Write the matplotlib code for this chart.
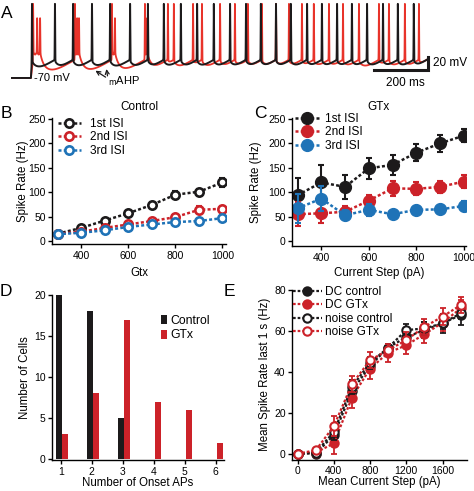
import numpy as np
import matplotlib
matplotlib.use('Agg')
import matplotlib.pyplot as plt

plt.rcParams['font.family'] = ['Liberation Sans', 'DejaVu Sans']
plt.rcParams['font.size'] = 8.3
plt.rcParams['axes.linewidth'] = 1.0
plt.rcParams['xtick.major.width'] = 1.0
plt.rcParams['ytick.major.width'] = 1.0
plt.rcParams['xtick.major.size'] = 3
plt.rcParams['ytick.major.size'] = 3
plt.rcParams['xtick.labelsize'] = 7.5
plt.rcParams['ytick.labelsize'] = 7.5
plt.rcParams['xtick.major.pad'] = 2
plt.rcParams['ytick.major.pad'] = 1.5

BLACK = '#1c1a1b'
RED = '#cc2229'
TRACE_RED = '#e8332a'
BLUE = '#1f73b7'

# ---- panel A: spike times (ms)
black_spikes = [74, 159, 226, 296, 363, 437, 503, 562, 625, 685, 747, 807, 866, 921,
                977, 1032, 1092, 1147, 1203, 1258, 1314, 1373, 1428, 1487]
red_spikes = [78, 93, 104, 233, 241, 248, 370, 381, 492, 500, 577, 599, 670, 703, 770,
              825, 873, 925, 977, 1025, 1073, 1117, 1173, 1225, 1284, 1358, 1395, 1454, 1506]
step_onset = 70
trace_end = 1535

# ---- panels B / C: ISI spike rates
steps = [300, 400, 500, 600, 700, 800, 900, 1000]
ctrl_isi1 = [15, 27, 42, 57, 74, 95, 101, 120]
ctrl_isi1_err = [3, 4, 4, 4, 5, 7, 6, 9]
ctrl_isi2 = [15, 19, 27, 34, 41, 49, 64, 66]
ctrl_isi2_err = [2, 2, 3, 3, 3, 3, 7, 6]
ctrl_isi3 = [14, 17, 22, 29, 34, 39, 41, 47]
ctrl_isi3_err = [2, 2, 2, 2, 2, 2, 2, 2]

gtx_isi1 = [94, 120, 111, 149, 156, 181, 200, 216]
gtx_isi1_err = [35, 35, 25, 22, 20, 18, 17, 13]
gtx_isi2 = [55, 57, 60, 83, 108, 107, 111, 122]
gtx_isi2_err = [25, 20, 12, 12, 15, 13, 13, 13]
gtx_isi3 = [67, 87, 53, 64, 55, 64, 65, 72]
gtx_isi3_err = [30, 25, 10, 12, 6, 7, 9, 10]

# ---- panel D: onset AP histogram
onset_aps = [1, 2, 3, 4, 5, 6]
cells_control = [20, 18, 5, 0, 0, 0]
cells_gtx = [3, 8, 17, 7, 6, 2]

# ---- panel E: mean rate last 1 s
mean_steps = [0, 200, 400, 600, 800, 1000, 1200, 1400, 1600, 1800]
dc_control = [0, 0, 9, 30.5, 43, 51.8, 57, 60.4, 63.7, 67.8]
dc_control_err = [0, 0, 3.5, 4, 3, 2, 3, 4, 4.5, 5]
dc_gtx = [0, 0.5, 5, 27.4, 41.6, 49.3, 53, 58.4, 64, 71]
dc_gtx_err = [0, 0.5, 5, 5, 5, 4.5, 4.5, 4.5, 4, 4]
noise_control = [0, 0.5, 10.6, 32.7, 44.4, 51.8, 60.4, 61.2, 63.7, 68.6]
noise_control_err = [0, 0.5, 4, 3.5, 3, 2, 3, 3, 3, 3]
noise_gtx = [0, 1.6, 13.4, 34, 45.7, 50.6, 55.5, 62, 67, 72.6]
noise_gtx_err = [0, 1, 5, 4, 4, 3, 4, 4, 4, 4]

W, H = 474, 491
fig = plt.figure(figsize=(W / 100, H / 100), dpi=100)


def rect(l, t, r, b):
    return [l / W, 1 - b / H, (r - l) / W, (b - t) / H]


def ftext(x, y, s, **kw):
    fig.text(x / W, 1 - y / H, s, **kw)


def clean(ax):
    ax.spines['top'].set_visible(False)
    ax.spines['right'].set_visible(False)


def build_trace(spikes, t, v_edge=-42.0):
    v = np.full_like(t, -70.0)
    events = [step_onset] + list(spikes) + [trace_end]
    for i in range(len(events) - 1):
        a, b = events[i], events[i + 1]
        m = (t >= a) & (t < b)
        p = (t[m] - a) / (b - a)
        if i == 0:
            v[m] = -70 + (v_edge + 70) * p
            continue
        dur = b - a
        depth = min(16.0, 0.12 * dur)
        base = v_edge - depth * np.sin(np.pi * p ** 0.6)
        if dur < 20:
            base = -28 - 6 * np.sin(np.pi * p)
        elif i >= 2 and events[i] - events[i - 1] < 20:
            base = base + (-28 - v_edge) * np.exp(-(t[m] - a) / 12.0)
        v[m] = base
    for k, s in enumerate(spikes):
        short = k > 0 and s - spikes[k - 1] < 20
        peak = 22 if short else 44
        g = np.exp(-((t - s) / 0.9) ** 2)
        v = v + g * (peak - v)
    v[t >= trace_end] = np.nan
    return v


# ---------------- panel A
axA = fig.add_axes(rect(0, 0, 474, 95))
axA.set_xlim(-44.4, 1709.8)
axA.set_ylim(-96.2, 50)
axA.axis('off')
t = np.arange(0, trace_end + 1, 0.2)
axA.plot(t, build_trace(red_spikes, t), color=TRACE_RED, lw=1.3)
axA.plot(t, build_trace(black_spikes, t), color=BLACK, lw=1.4)
axA.plot([1339, 1539, 1539], [-57.7, -57.7, -37.7], color=BLACK, lw=2.2,
         solid_joinstyle='miter')
axA.text(1558, -47, '20 mV', fontsize=8.5, va='center', ha='left')
axA.text(1454, -77.7, '200 ms', fontsize=8.5, va='center', ha='center')
axA.text(81, -70, '-70 mV', fontsize=8, va='center', ha='left')
axA.text(355, -74.5, r'$_{\mathrm{m}}$AHP', fontsize=8, va='center', ha='left')
for hx, hy in [(300, -56.5), (348, -52)]:
    axA.annotate('', xy=(hx, hy), xytext=(355, -71),
                 arrowprops=dict(arrowstyle='->', color=BLACK, lw=0.9,
                                 mutation_scale=7))

# ---------------- panel B
axB = fig.add_axes(rect(52, 118, 226, 244))
clean(axB)
for y, e, c, lab in [(ctrl_isi1, ctrl_isi1_err, BLACK, '1st ISI'),
                     (ctrl_isi2, ctrl_isi2_err, RED, '2nd ISI'),
                     (ctrl_isi3, ctrl_isi3_err, BLUE, '3rd ISI')]:
    axB.errorbar(steps, y, yerr=e, fmt='none', ecolor=c, elinewidth=1.5,
                 capsize=2.5, capthick=1.5)
    axB.plot(steps, y, ls=(0, (1.2, 0.9)), lw=1.8, color=c, marker='o', ms=6,
             mfc='white', mec=c, mew=1.9, label=lab)
axB.set_xlim(276, 1015)
axB.set_ylim(-6, 252)
axB.set_xticks([400, 600, 800, 1000])
axB.set_yticks([0, 50, 100, 150, 200, 250])
axB.set_xlabel('Gtx')
axB.set_ylabel('Spike Rate (Hz)')
axB.xaxis.set_label_coords(0.5, -0.18)
axB.yaxis.set_label_coords(-0.13, 0.5)
axB.set_title('Control', fontsize=8.5, y=1 + 11 / 126, va='center', pad=0)
axB.legend(loc='upper left', bbox_to_anchor=(58 / W, 1 - 118 / H),
           bbox_transform=fig.transFigure, frameon=False, borderpad=0,
           borderaxespad=0, handlelength=1.9, handletextpad=0.75,
           labelspacing=0.12, fontsize=8.6)

# ---------------- panel C
axC = fig.add_axes(rect(292, 118, 466, 246))
clean(axC)
for y, e, c, lab in [(gtx_isi1, gtx_isi1_err, BLACK, '1st ISI'),
                     (gtx_isi2, gtx_isi2_err, RED, '2nd ISI'),
                     (gtx_isi3, gtx_isi3_err, BLUE, '3rd ISI')]:
    axC.errorbar(steps, y, yerr=e, fmt='none', ecolor=c, elinewidth=1.5,
                 capsize=2.5, capthick=1.5)
    axC.plot(steps, y, ls=(0, (1.2, 0.9)), lw=1.8, color=c, marker='o', ms=8.5,
             mfc=c, mec=c, label=lab)
axC.set_xlim(276.6, 1009)
axC.set_ylim(-10, 252)
axC.set_xticks([400, 600, 800, 1000])
axC.set_yticks([0, 50, 100, 150, 200, 250])
axC.set_xlabel('Current Step (pA)')
axC.set_ylabel('Spike Rate (Hz)')
axC.xaxis.set_label_coords(0.5, -0.165)
axC.yaxis.set_label_coords(-0.175, 0.5)
axC.set_title('GTx', fontsize=8.5, y=1 + 11 / 128, va='center', pad=0)
axC.legend(loc='upper left', bbox_to_anchor=(295 / W, 1 - 113 / H),
           bbox_transform=fig.transFigure, frameon=False, borderpad=0,
           borderaxespad=0, handlelength=2.0, handletextpad=0.55,
           labelspacing=0.12, fontsize=8.6)

# ---------------- panel D
axD = fig.add_axes(rect(52, 295, 224, 460))
clean(axD)
x = np.array(onset_aps, dtype=float)
axD.bar(x - 0.14, cells_control, width=0.19, align='edge', color=BLACK,
        label='Control')
axD.bar(x + 0.05, cells_gtx, width=0.19, align='edge', color=RED, label='GTx')
axD.set_xlim(0.72, 6.27)
axD.set_ylim(-0.12, 20)
axD.set_xticks(onset_aps)
axD.set_yticks([0, 5, 10, 15, 20])
axD.set_xlabel('Number of Onset APs')
axD.set_ylabel('Number of Cells')
axD.xaxis.set_label_coords(0.5, -0.1)
axD.yaxis.set_label_coords(-0.125, 0.5)
axD.legend(loc='upper left', bbox_to_anchor=(161 / W, 1 - 315 / H),
           bbox_transform=fig.transFigure, frameon=False, borderpad=0,
           borderaxespad=0, handlelength=0.45, handleheight=0.8,
           handletextpad=0.35, labelspacing=0.2, fontsize=8.8)

# ---------------- panel E
axE = fig.add_axes(rect(292, 290, 467, 459.5))
clean(axE)
series_e = [(dc_control, dc_control_err, BLACK, True, 'DC control'),
            (dc_gtx, dc_gtx_err, RED, True, 'DC GTx'),
            (noise_control, noise_control_err, BLACK, False, 'noise control'),
            (noise_gtx, noise_gtx_err, RED, False, 'noise GTx')]
for y, e, c, filled, lab in series_e:
    axE.errorbar(mean_steps, y, yerr=e, fmt='none', ecolor=c, elinewidth=1.3,
                 capsize=2.2, capthick=1.3)
    axE.plot(mean_steps, y, ls=(0, (1.2, 0.9)), lw=1.6, color=c, marker='o',
             ms=6, mfc=c if filled else 'white', mec=c, mew=1.5, label=lab)
axE.set_xlim(-62, 1870)
axE.set_ylim(-2.9, 80)
axE.set_xticks([0, 400, 800, 1200, 1600])
axE.set_yticks([0, 20, 40, 60, 80])
axE.set_xlabel('Mean Current Step (pA)')
axE.set_ylabel('Mean Spike Rate last 1 s (Hz)')
axE.xaxis.set_label_coords(0.5, -0.1)
axE.yaxis.set_label_coords(-0.118, 0.5)
axE.legend(loc='upper left', bbox_to_anchor=(293 / W, 1 - 286 / H),
           bbox_transform=fig.transFigure, frameon=False, borderpad=0,
           borderaxespad=0, handlelength=2.4, handletextpad=0.3,
           labelspacing=0.12, fontsize=8.6)

# panel letters
for lab, px, py in [('A', 7, 14), ('B', 6, 113), ('C', 260, 113),
                    ('D', 6, 291), ('E', 229, 291)]:
    ftext(px, py, lab, fontsize=12.5, ha='center', va='center')

fig.savefig('out.png', dpi=100)
